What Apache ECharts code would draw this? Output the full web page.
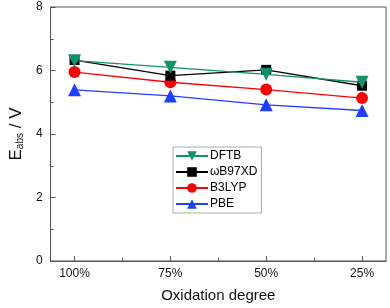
<!DOCTYPE html>
<html><head><meta charset="utf-8">
<script src="https://cdn.jsdelivr.net/npm/echarts@6/dist/echarts.min.js"></script>
<style>html,body{margin:0;padding:0;background:#fff}#c{width:390px;height:308px}</style>
</head><body><div id="c"></div>
<script>
var categories = ['100%', '75%', '50%', '25%'];
var seriesNames = ['DFTB', 'ωB97XD', 'B3LYP', 'PBE'];
var dftb = [6.31, 6.10, 5.88, 5.63];
var wb97xd = [6.33, 5.84, 6.02, 5.52];
var b3lyp = [5.95, 5.63, 5.40, 5.13];
var pbe = [5.39, 5.20, 4.92, 4.74];
var yTicks = [0, 2, 4, 6, 8];

var colors = ['#13906c', '#000000', '#ff0000', '#1f3fff'];
var symbols = ['triangle', 'rect', 'circle', 'triangle'];
var rotates = [180, 0, 0, 0];
var sizes = [13, 10, 12, 13];
var allData = [dftb, wb97xd, b3lyp, pbe];
var font = 'Liberation Sans, Arial, sans-serif';

var series = allData.map(function (vals, i) {
  return {
    name: seriesNames[i], type: 'line',
    data: vals.map(function (v, j) { return [j, v]; }),
    symbol: symbols[i], symbolRotate: rotates[i], symbolSize: sizes[i],
    lineStyle: { color: colors[i], width: 1.3 },
    itemStyle: { color: colors[i] },
    z: 10 - i
  };
});
series.reverse();

var chart = echarts.init(document.getElementById('c'));
chart.setOption({
  animation: false,
  grid: { left: 42, right: 4, top: 7, bottom: 46, show: true, borderColor: '#555', borderWidth: 1 },
  legend: {
    data: seriesNames, orient: 'vertical', left: 173, top: 147,
    padding: [3, 4, 3, 2], itemWidth: 32, itemHeight: 12, itemGap: 4,
    borderColor: '#aaa', borderWidth: 1,
    textStyle: { fontFamily: font, fontSize: 12, color: '#000', padding: [0, 0, 0, -3] }
  },
  xAxis: [{
    type: 'value', min: -0.25, max: 3.25, position: 'bottom',
    axisLine: { onZero: false, lineStyle: { color: '#555' } },
    splitLine: { show: false },
    axisTick: { inside: true, length: 5, customValues: [0, 1, 2, 3], lineStyle: { color: '#555' } },
    axisLabel: { customValues: [0, 1, 2, 3], formatter: function (v) { return categories[Math.round(v)]; },
      fontFamily: font, fontSize: 12, color: '#111', margin: 7 },
    name: 'Oxidation degree', nameLocation: 'middle', nameGap: 27,
    nameTextStyle: { fontFamily: font, fontSize: 15, color: '#111' }
  }, {
    type: 'value', min: -0.25, max: 3.25, position: 'bottom',
    axisLine: { show: false, onZero: false }, splitLine: { show: false },
    axisTick: { inside: true, length: 3, customValues: [0.5, 1.5, 2.5], lineStyle: { color: '#555' } },
    axisLabel: { show: false }
  }],
  yAxis: {
    type: 'value', min: 0, max: 8, interval: 2,
    axisLine: { show: true, onZero: false, lineStyle: { color: '#555' } },
    splitLine: { show: false },
    axisTick: { inside: true, length: 5, lineStyle: { color: '#555' } },
    minorTick: { show: true, splitNumber: 2, length: 3, lineStyle: { color: '#555' } },
    axisLabel: { fontFamily: font, fontSize: 12, color: '#111', margin: 8,
      formatter: function (v) { return yTicks.indexOf(v) >= 0 ? String(v) : ''; } },
    name: '{a|E}{b|abs}{a| / V}', nameLocation: 'middle', nameGap: 22, nameRotate: 90,
    nameTextStyle: { rich: {
      a: { fontFamily: font, fontSize: 17, color: '#111' },
      b: { fontFamily: font, fontSize: 10, color: '#111', verticalAlign: 'bottom', padding: [7, 0, 0, 0] }
    } }
  },
  series: series
});
</script></body></html>
